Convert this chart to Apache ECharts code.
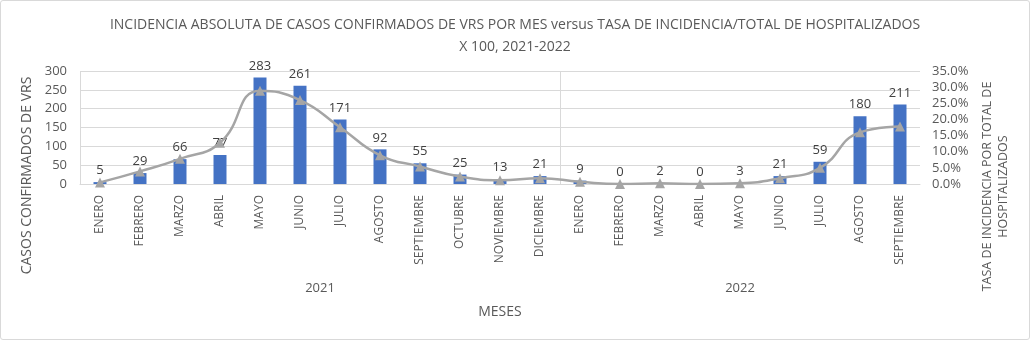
<!DOCTYPE html>
<html><head><meta charset="utf-8">
<script src="https://cdn.jsdelivr.net/npm/echarts@6/dist/echarts.min.js"></script>
<style>
html,body{margin:0;padding:0;background:#fff;}
#wrap{position:relative;width:1030px;height:340px;}
#c{width:1030px;height:340px;}
#frame{position:absolute;left:0;top:0;width:1030px;height:340px;box-sizing:border-box;border:1px solid #D9D9D9;border-radius:3px;pointer-events:none;}
</style></head>
<body><div id="wrap"><div id="c"></div><div id="frame"></div></div>
<script>
const months = ['ENERO','FEBRERO','MARZO','ABRIL','MAYO','JUNIO','JULIO','AGOSTO','SEPTIEMBRE','OCTUBRE','NOVIEMBRE','DICIEMBRE',
                'ENERO','FEBRERO','MARZO','ABRIL','MAYO','JUNIO','JULIO','AGOSTO','SEPTIEMBRE'];
const years = ['2021','2022'];
const yearMonthCounts = [12, 9];
const casos = [5,29,66,77,283,261,171,92,55,25,13,21,9,0,2,0,3,21,59,180,211];
const tasa = [0.5,3.9,7.8,12.8,28.9,26.0,17.6,8.9,5.4,2.3,1.2,1.8,0.7,0.0,0.2,0.0,0.2,1.8,5.0,16.0,17.8];

const FONT = 'Open Sans';
const GREY_TXT = '#595959';

// year group boundaries and centers, derived from the counts
const yearBounds = [0];
yearMonthCounts.forEach(n => yearBounds.push(yearBounds[yearBounds.length-1] + n));
const yearCenters = years.map((y,i) => (yearBounds[i] + yearBounds[i+1]) / 2);
const total = yearBounds[yearBounds.length-1];

const chart = echarts.init(document.getElementById('c'), null, {renderer:'canvas'});
chart.setOption({
  animation:false,
  textStyle:{fontFamily:FONT},
  title:{
    text:'INCIDENCIA ABSOLUTA DE CASOS CONFIRMADOS DE VRS POR MES versus TASA DE INCIDENCIA/TOTAL DE HOSPITALIZADOS\nX 100, 2021-2022',
    left:'center', top:9,
    textStyle:{fontFamily:FONT,fontSize:14,fontWeight:'normal',color:GREY_TXT,lineHeight:22}
  },
  grid:{left:80,right:110,top:71,bottom:156,containLabel:false,outerBoundsMode:'none'},
  xAxis:[{
    type:'category',
    data:months,
    axisLine:{lineStyle:{color:'#D9D9D9'}},
    axisTick:{show:false},
    axisLabel:{rotate:90,fontSize:12,color:GREY_TXT,margin:11,interval:0,fontFamily:FONT}
  },{
    type:'value',
    position:'bottom',
    offset:113,
    min:0, max:total,
    axisLine:{show:false},
    splitLine:{show:false},
    axisTick:{show:true,inside:true,length:113,lineStyle:{color:'#D9D9D9'},customValues:yearBounds.slice(0,-1)},
    axisLabel:{inside:true,margin:2,fontSize:13,color:GREY_TXT,fontFamily:FONT,customValues:yearCenters,
      formatter:v => { const i = yearCenters.indexOf(v); return i>=0 ? years[i] : ''; }},
    name:'MESES', nameLocation:'middle', nameGap:8,
    nameTextStyle:{fontSize:14,color:GREY_TXT,fontFamily:FONT}
  }],
  yAxis:[{
    type:'value', min:0, max:300, interval:50,
    axisLine:{show:false}, axisTick:{show:false},
    splitLine:{lineStyle:{color:'#D9D9D9'}},
    axisLabel:{fontSize:13,color:GREY_TXT,margin:13,fontFamily:FONT},
    name:'CASOS CONFIRMADOS DE VRS', nameLocation:'middle', nameGap:42,
    nameTextStyle:{fontSize:14,color:GREY_TXT,fontFamily:FONT,padding:[0,96,0,0]}
  },{
    type:'value', min:0, max:35, interval:5, position:'right',
    axisLine:{show:false}, axisTick:{show:false}, splitLine:{show:false},
    axisLabel:{fontSize:13,color:GREY_TXT,margin:12,fontFamily:FONT,formatter:v=>v.toFixed(1)+'%'},
    name:'TASA DE INCIDENCIA POR TOTAL DE\nHOSPITALIZADOS', nameLocation:'middle', nameGap:58,
    nameTextStyle:{fontSize:12.5,color:GREY_TXT,fontFamily:FONT,lineHeight:16,align:'center',padding:[0,118,0,0]}
  }],
  series:[{
    type:'bar', name:'Casos', data:casos, barWidth:13,
    itemStyle:{color:'#4472C4'},
    label:{show:true,position:'top',fontSize:13,color:'#404040',distance:5,fontFamily:FONT}
  },{
    type:'line', name:'Tasa', data:tasa, yAxisIndex:1, smooth:true,
    lineStyle:{color:'#A5A5A5',width:2.5},
    itemStyle:{color:'#A5A5A5'},
    symbol:'triangle', symbolSize:10, z:3
  }]
});
</script></body></html>
